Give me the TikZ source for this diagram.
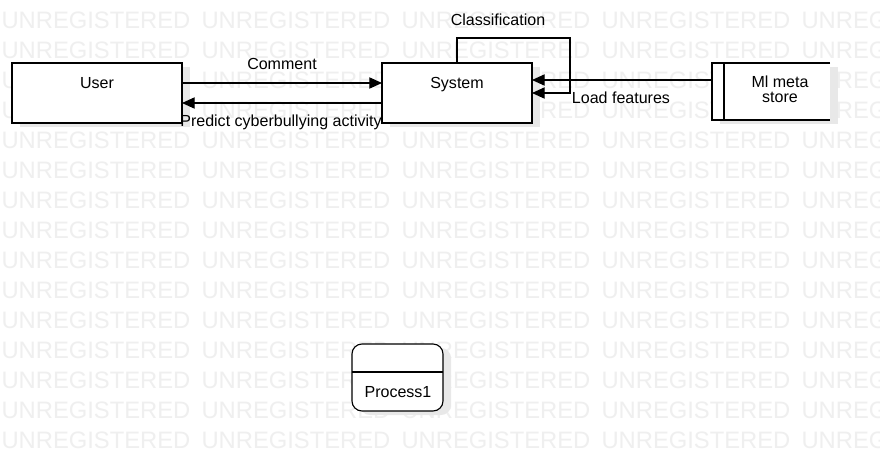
\documentclass[tikz,border=0pt]{standalone}
\usepackage{fontspec}
\setmainfont{Liberation Sans}
\usetikzlibrary{arrows.meta,shadows}
\definecolor{wmgray}{HTML}{EFEFEF}
\definecolor{shgray}{HTML}{E8E8E8}
\newcommand{\wmtext}{UNREGISTERED}

\begin{document}
\begin{tikzpicture}[x=0.025cm, y=-0.025cm, line width=0.8pt,
  wmark/.style ={anchor=base west, inner sep=0pt, text=wmgray,
                 font=\fontsize{16.9}{18}\selectfont},
  lbl/.style   ={anchor=base, inner sep=0pt, font=\fontsize{11.4}{10}\selectfont},
  shade/.style ={drop shadow={shadow xshift=0.2cm, shadow yshift=-0.1cm,
                 fill=shgray, opacity=1}},
  box/.style   ={draw, fill=white, shade, inner sep=0pt, outer sep=0pt,
                 minimum height=1.5cm},
  flow/.style  ={-{Triangle[length=9pt,width=8pt]}}]
  \clip (0,0) rectangle (880,462);
  \fill[white] (0,0) rectangle (880,462);
  \foreach \r in {0,...,14}
    \foreach \c in {0,...,4}
      \node[wmark] (wm-\r-\c) at (\c*200+1, \r*30+28.5) {\wmtext};

  \node[box, minimum width=4.25cm] (user) at ( 97, 93) {};
  \node[box, minimum width=3.75cm] (sys)  at (457, 93) {};
  \node[fill=white, shade, inner sep=0pt, outer sep=0pt,
        minimum width=2.95cm, minimum height=1.425cm] (store) at (771, 91.5) {};
  \draw (store.north east) -- (store.north west) -- (store.south west) -- (store.south east);
  \draw ([xshift=0.3cm]store.north west) -- ([xshift=0.3cm]store.south west);
  \node[box, rounded corners=0.25cm, minimum width=2.275cm, minimum height=1.675cm]
        (proc) at (397.5, 377.5) {};
  \draw ([yshift=-0.7cm]proc.north west) -- ([yshift=-0.7cm]proc.north east);

  \node[lbl] (usertxt)  at ( 97, 88) {User};
  \node[lbl] (systxt)   at (457, 88) {System};
  \node[lbl, align=center] (storetxt) at (780,102) {Ml meta\\store};
  \node[lbl] (proctxt)  at (398,397) {Process1};

  \coordinate (clsturn) at (570, 38);
  \draw[flow] ([yshift= 0.25cm]user.east) -- ([yshift= 0.25cm]sys.west);
  \draw[flow] ([yshift=-0.25cm]sys.west)  -- ([yshift=-0.25cm]user.east);
  \draw[flow] ([yshift=0.2875cm]store.west) -- ([yshift=0.2875cm]store.west -| sys.east);
  \draw[flow] (sys.north) |- (clsturn) |- (sys.east);

  \node[lbl] (cmtlbl)  at (282, 69) {Comment};
  \node[lbl] (predlbl) at (281,126) {Predict cyberbullying activity};
  \node[lbl] (clslbl)  at (498, 25) {Classification};
  \node[lbl] (loadlbl) at (621,103) {Load features};
\end{tikzpicture}
\end{document}
